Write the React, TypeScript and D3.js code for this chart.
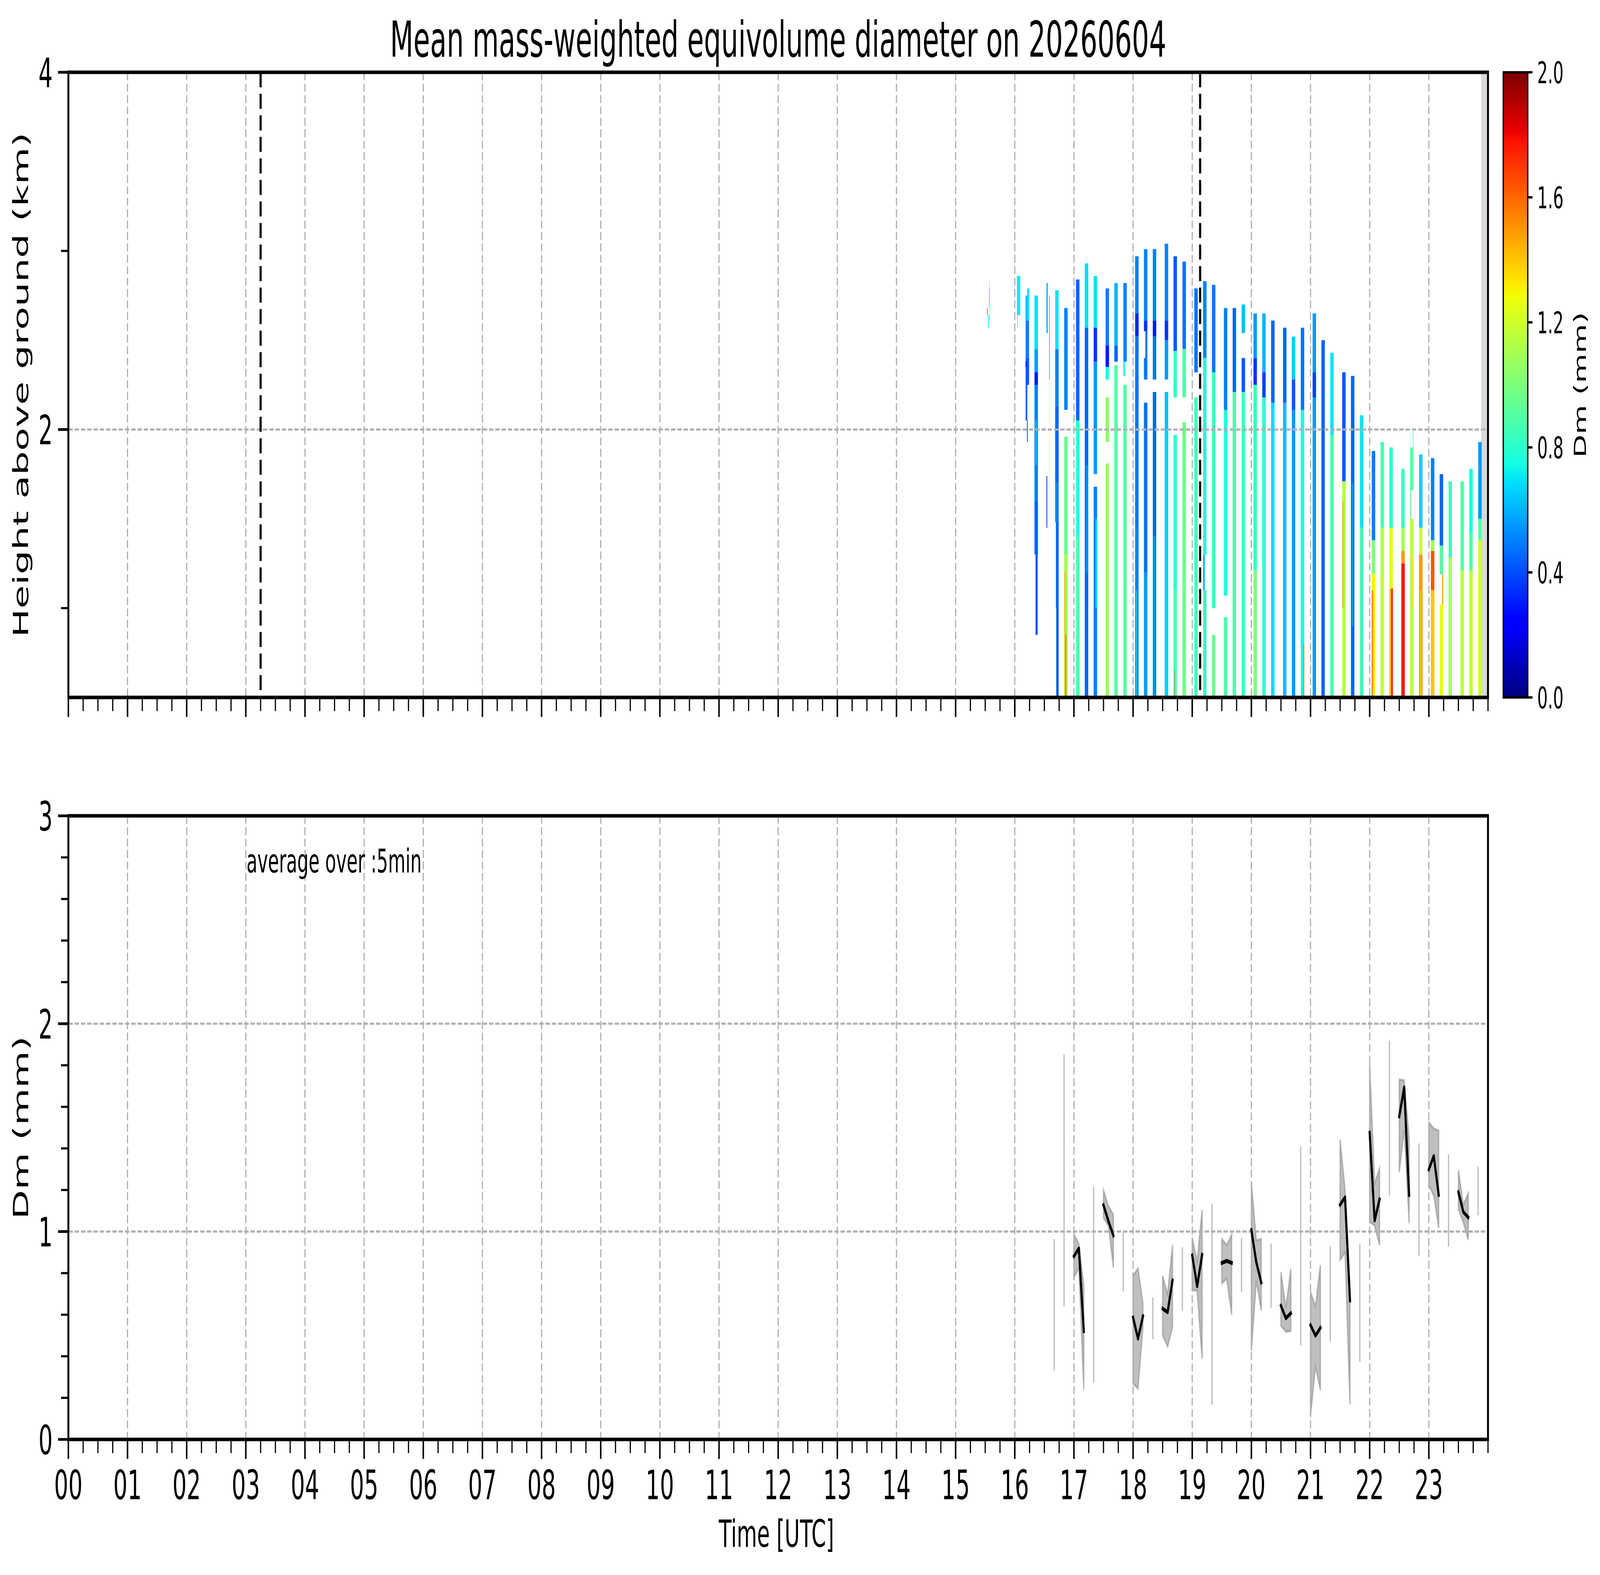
import React, { useEffect } from 'react';
import * as d3 from 'd3';

// ---------------- data ----------------
const titleText = 'Mean mass-weighted equivolume diameter on 20260604';
const hourLabels = d3.range(24).map((h) => String(h).padStart(2, '0'));
const heightMajor = [2, 4];
const heightMinor = [1, 3];
const dmMajor = [0, 1, 2, 3];
const dmMinor = [0.2, 0.4, 0.6, 0.8, 1.2, 1.4, 1.6, 1.8, 2.2, 2.4, 2.6, 2.8];
const cbarTicks = [0, 0.4, 0.8, 1.2, 1.6, 2.0];
const markerTimes = ['03:15', '19:08'];
const noDataFrom = '23:53';
const profileWidthMin = 3.5;

// start time of each radar profile block
const profileTimes = [
  '15:32:00',
  '16:02:06', '16:11:00', '16:20:00', '16:32:06', '16:41:00', '16:50:06',
  '17:02:06', '17:11:00', '17:20:00', '17:32:06', '17:41:00', '17:50:06',
  '18:02:06', '18:11:00', '18:20:00', '18:32:06', '18:41:00', '18:50:06',
  '19:02:06', '19:11:00', '19:20:00', '19:32:06', '19:41:00', '19:50:06',
  '20:02:06', '20:11:00', '20:20:00', '20:32:06', '20:41:00', '20:50:06',
  '21:02:06', '21:11:00', '21:20:00', '21:32:06', '21:41:00', '21:50:06',
  '22:02:06', '22:11:00', '22:20:00', '22:32:06', '22:41:00', '22:50:06',
  '23:02:06', '23:11:00', '23:20:00', '23:32:06', '23:41:00', '23:50:06',
];
// [top km, bottom km, Dm mm, (fraction from), (fraction to)]
const profileSegments: number[][][] = [
  [[2.83, 2.71, 0.5, 0.57, 0.63], [2.79, 2.68, 0.75, 0.66, 0.78], [2.72, 2.68, 1.0, 0.43, 0.55], [2.68, 2.64, 1.75, 0, 0.15], [2.68, 2.64, 0.82, 0.78, 0.86], [2.64, 2.57, 0.7, 0.29, 0.49], [2.64, 2.61, 0.5, 0.66, 0.75]],
  [[2.86, 2.64, 0.72], [2.64, 2.57, 0.72, 0.1, 0.25]],
  [[2.79, 2.61, 0.68, 0.45, 1], [2.75, 2.61, 0.6, 0, 0.45], [2.61, 2.4, 0.5], [2.4, 2.25, 0.42], [2.38, 2.35, 0.28, 0, 0.3], [2.25, 2.05, 0.45, 0, 0.5], [2.05, 1.93, 0.35, 0.4, 0.6]],
  [[2.75, 2.45, 0.68], [2.45, 2.32, 0.55], [2.32, 2.25, 0.3], [2.25, 1.6, 0.5], [2.05, 1.8, 0.62, 0.3, 0.7], [1.6, 1.3, 0.45], [1.3, 0.85, 0.4, 0.3, 0.9]],
  [[2.82, 2.54, 0.62, 0, 0.4], [2.75, 2.28, 0.55, 0.8, 0.95], [1.74, 1.45, 0.42, 0, 0.25]],
  [[2.78, 2.45, 0.7], [2.45, 2.13, 0.5], [2.13, 1.7, 0.45], [1.7, 1.48, 0.5], [1.48, 1.0, 0.45, 0.2, 1], [1.0, 0.5, 0.42, 0.3, 1]],
  [[2.68, 2.11, 0.5], [1.96, 1.3, 0.95], [1.3, 0.5, 1.1], [1.2, 0.5, 1.45, 0.1, 0.4], [0.85, 0.5, 1.65, 0.4, 0.6]],
  [[2.84, 2.05, 0.45], [2.05, 1.4, 0.78], [1.4, 0.5, 0.88]],
  [[2.93, 2.57, 0.68], [2.57, 0.5, 0.45], [1.8, 1.2, 0.52, 0.3, 1]],
  [[2.86, 2.57, 0.7], [2.57, 2.38, 0.35], [2.38, 1.75, 0.55], [1.68, 0.5, 0.5], [1.5, 1.0, 0.65, 0.5, 1]],
  [[2.79, 2.47, 0.5], [2.47, 2.35, 0.3], [2.35, 2.28, 0.75], [2.18, 1.93, 1.05], [1.81, 0.5, 1.08]],
  [[2.82, 2.47, 0.6], [2.47, 2.38, 0.45], [2.36, 0.5, 0.9]],
  [[2.82, 2.38, 0.5], [2.38, 2.3, 0.75, 0, 0.5], [2.25, 0.5, 0.9]],
  [[2.97, 2.65, 0.5], [2.65, 2.52, 0.32], [2.52, 1.45, 0.48], [1.45, 0.5, 0.5], [1.1, 0.5, 0.62, 0.2, 0.6]],
  [[3.01, 2.61, 0.5], [2.61, 2.55, 0.35], [2.55, 2.4, 0.48, 0.4, 1], [2.4, 2.28, 0.48], [2.15, 1.2, 0.47], [1.2, 0.5, 0.55]],
  [[3.01, 2.61, 0.5], [2.61, 2.52, 0.3], [2.52, 2.28, 0.48], [2.21, 1.4, 0.45], [1.4, 0.5, 0.52]],
  [[3.04, 2.61, 0.5], [2.61, 2.5, 0.35], [2.5, 2.28, 0.55], [2.21, 2.0, 0.62], [2.0, 0.5, 0.65]],
  [[2.97, 2.44, 0.42], [2.44, 2.18, 0.82], [1.97, 1.1, 0.8], [1.1, 0.5, 0.88], [0.65, 0.5, 1.75, 0.25, 0.35]],
  [[2.94, 2.45, 0.48], [2.45, 2.18, 0.9], [2.04, 0.5, 0.97]],
  [[2.79, 2.32, 0.47], [2.18, 0.5, 0.85]],
  [[2.83, 2.4, 0.5], [2.4, 1.3, 0.78], [1.3, 1.1, 0.6, 0, 0.5], [1.1, 0.5, 0.82]],
  [[2.81, 2.32, 0.48], [2.32, 1.0, 0.85], [0.85, 0.5, 0.95]],
  [[2.68, 2.11, 0.5], [2.11, 1.07, 0.78], [0.95, 0.5, 0.88]],
  [[2.68, 2.21, 0.45], [2.21, 0.5, 0.88]],
  [[2.7, 2.54, 0.62], [2.4, 2.21, 0.42], [2.21, 0.5, 0.85]],
  [[2.65, 2.4, 0.55], [2.4, 2.25, 0.35], [2.25, 1.21, 0.85], [1.21, 0.5, 1.0]],
  [[2.65, 2.32, 0.6], [2.32, 2.18, 0.38], [2.18, 0.5, 0.8]],
  [[2.61, 2.15, 0.45], [2.15, 0.5, 0.68]],
  [[2.57, 2.15, 0.45], [2.15, 0.5, 0.62]],
  [[2.52, 2.28, 0.65], [2.28, 2.11, 0.42], [2.11, 0.5, 0.55]],
  [[2.57, 2.11, 0.48], [2.11, 0.5, 0.75], [0.8, 0.5, 1.6, 0.8, 1]],
  [[2.65, 2.32, 0.55], [2.32, 2.18, 0.38], [2.18, 0.5, 0.55]],
  [[2.5, 0.5, 0.45]],
  [[2.43, 1.97, 0.7], [1.97, 0.5, 0.88]],
  [[2.32, 1.71, 0.42], [1.71, 0.5, 1.15], [1.6, 1.0, 1.5, 0.1, 0.3]],
  [[2.3, 0.5, 0.45], [1.7, 0.9, 0.55, 0.3, 0.7]],
  [[2.08, 1.45, 0.7], [1.45, 0.5, 0.85]],
  [[1.88, 1.38, 0.5], [1.38, 1.19, 1.0], [1.19, 0.5, 1.3], [1.1, 0.5, 1.6, 0, 0.3]],
  [[1.93, 1.45, 0.88], [1.45, 0.5, 1.12], [1.2, 0.5, 1.3, 0.6, 0.9]],
  [[1.9, 1.45, 0.82], [1.45, 1.11, 1.25], [1.11, 0.5, 1.4], [1.11, 0.5, 1.75, 0.5, 1]],
  [[1.78, 1.45, 0.82], [1.45, 1.32, 1.1], [1.32, 1.25, 1.5], [1.25, 0.5, 1.78]],
  [[1.9, 1.66, 0.9], [2.0, 1.9, 0.85, 0.85, 1], [1.66, 1.5, 0.95, 0, 0.3], [1.5, 0.5, 1.15], [1.3, 1.0, 1.35, 0.4, 0.7]],
  [[1.86, 1.45, 0.65], [1.45, 1.3, 1.2], [1.3, 0.5, 1.5], [1.1, 0.5, 1.3, 0.4, 0.6]],
  [[1.84, 1.38, 0.5], [1.38, 1.32, 1.1], [1.32, 1.1, 1.65], [1.1, 0.5, 1.4]],
  [[1.75, 1.35, 0.45], [1.35, 1.19, 0.9], [1.19, 1.02, 1.5, 0.7, 1], [1.02, 0.5, 1.25]],
  [[1.71, 1.28, 0.85], [1.28, 0.5, 1.1]],
  [[1.71, 1.21, 0.9], [1.21, 0.5, 1.15]],
  [[1.78, 1.42, 0.75], [1.42, 1.21, 0.9], [1.21, 0.5, 1.15]],
  [[1.93, 1.5, 0.55], [1.5, 1.38, 0.9], [1.38, 0.5, 1.2]],
];

// 5-minute averages (bottom panel)
const dmTimes = ['16:40', '16:50', '17:00', '17:05', '17:10', '17:20', '17:30', '17:35', '17:40', '17:50',
  '18:00', '18:05', '18:10', '18:20', '18:30', '18:35', '18:40', '18:50',
  '19:00', '19:05', '19:10', '19:20', '19:30', '19:35', '19:40', '19:50',
  '20:00', '20:05', '20:10', '20:20', '20:30', '20:35', '20:40', '20:50',
  '21:00', '21:05', '21:10', '21:20', '21:30', '21:35', '21:40', '21:50',
  '22:00', '22:05', '22:10', '22:20', '22:30', '22:35', '22:40', '22:50',
  '23:00', '23:05', '23:10', '23:20', '23:30', '23:35', '23:40', '23:50'];
const dmMean = [0.62, 1.2, 0.881, 0.919, 0.521, 0.7, 1.127, 1.05, 0.981, 0.85,
  0.586, 0.485, 0.593, 0.58, 0.629, 0.612, 0.765, 0.77,
  0.885, 0.737, 0.888, 0.62, 0.849, 0.859, 0.849, 0.84,
  1.007, 0.852, 0.755, 0.79, 0.643, 0.583, 0.607, 0.9,
  0.55, 0.499, 0.537, 0.7, 1.129, 1.165, 0.669, 0.65,
  1.475, 1.053, 1.155, 1.52, 1.554, 1.694, 1.176, 1.15,
  1.299, 1.363, 1.176, 1.15, 1.19, 1.094, 1.068, 1.2];
const dmLow = [0.331, 0.64, 0.777, 0.827, 0.24, 0.273, 1.065, 1.029, 0.827, 0.712,
  0.269, 0.245, 0.54, 0.482, 0.499, 0.446, 0.54, 0.619,
  0.719, 0.715, 0.388, 0.168, 0.751, 0.773, 0.6, 0.708,
  0.427, 0.763, 0.619, 0.633, 0.547, 0.518, 0.522, 0.453,
  0.115, 0.35, 0.237, 0.471, 0.863, 0.9, 0.168, 0.374,
  1.046, 1.029, 0.935, 1.173, 1.285, 1.489, 1.04, 0.885,
  1.223, 1.173, 1.017, 0.928, 1.108, 1.043, 0.96, 1.079];
const dmHigh = [0.964, 1.852, 0.986, 0.942, 0.741, 1.216, 1.199, 1.122, 1.082, 1.0,
  0.787, 0.823, 0.655, 0.683, 0.787, 0.698, 0.935, 0.924,
  0.971, 0.856, 1.104, 1.132, 0.964, 0.935, 0.986, 0.968,
  1.237, 0.957, 0.964, 0.942, 0.804, 0.633, 0.82, 1.409,
  0.709, 0.64, 0.839, 0.931, 1.443, 1.201, 0.72, 0.94,
  1.809, 1.23, 1.305, 1.918, 1.731, 1.727, 1.453, 1.424,
  1.525, 1.496, 1.485, 1.371, 1.295, 1.129, 1.184, 1.312];

// ---------------- helpers ----------------
const FONT = 'DejaVu Sans';
const parseHM = (s: string) => {
  const p = s.split(':').map(Number);
  return p[0] + (p[1] || 0) / 60 + (p[2] || 0) / 3600;
};
const jR = d3.scaleLinear([0, 0.35, 0.66, 0.89, 1], [0, 0, 1, 1, 0.5]).clamp(true);
const jG = d3.scaleLinear([0, 0.125, 0.375, 0.64, 0.91, 1], [0, 0, 1, 1, 0, 0]).clamp(true);
const jB = d3.scaleLinear([0, 0.11, 0.34, 0.65, 1], [0.5, 1, 1, 0, 0]).clamp(true);
const norm = d3.scaleLinear([0, 2], [0, 1]).clamp(true);
const jet = (v: number) => {
  const t = Math.round(norm(v) * 255) / 255;
  return d3.rgb(255 * jR(t), 255 * jG(t), 255 * jB(t)).formatHex();
};

const W = 7442, H = 4031;
const PX0 = 318, PX1 = 6921;
const T0 = 185, T1 = 1785;
const B0 = 2088, B1 = 3684;
const CX0 = 6992, CX1 = 7106;
const GRID = '#b0b0b0';

export default function App() {
  useEffect(() => {
    document.body.style.margin = '0';
    document.body.style.overflow = 'hidden';
    document.documentElement.style.overflow = 'hidden';
  }, []);

  const x = d3.scaleLinear([0, 24], [PX0, PX1]);
  const yH = d3.scaleLinear([0.5, 4], [T1, T0]);
  const yD = d3.scaleLinear([0, 3], [B1, B0]);
  const yC = d3.scaleLinear([0, 2], [T1, T0]);

  const majorHours = d3.range(0, 24);
  const minorHours = d3.range(0, 97).map((q) => q / 4).filter((v) => v % 1 !== 0 || v === 24);

  // bottom panel groups
  const pts = dmTimes.map((t, i) => ({ t: parseHM(t), m: dmMean[i], lo: dmLow[i], hi: dmHigh[i] }));
  const groups: typeof pts[] = [];
  pts.forEach((p, i) => {
    if (i === 0 || p.t - pts[i - 1].t > 5.5 / 60) groups.push([p]);
    else groups[groups.length - 1].push(p);
  });
  const area = d3.area<any>().x((d) => x(d.t)).y0((d) => yD(d.lo)).y1((d) => yD(d.hi));
  const line = d3.line<any>().x((d) => x(d.t)).y((d) => yD(d.m));

  const xTicks = (yBase: number, key: string) => (
    <g key={key}>
      {majorHours.map((h) => (
        <line key={'M' + h} x1={x(h)} x2={x(h)} y1={yBase} y2={yBase + 50} stroke="#000" strokeWidth={7} />
      ))}
      {minorHours.map((h) => (
        <line key={'m' + h} x1={x(h)} x2={x(h)} y1={yBase} y2={yBase + 35} stroke="#000" strokeWidth={5.5} />
      ))}
    </g>
  );

  const cbSteps = d3.range(256);

  return (
    <svg viewBox={`0 0 ${W} ${H}`} preserveAspectRatio="none"
      style={{ position: 'fixed', left: 0, top: 0, width: '100vw', height: '100vh', display: 'block', background: '#fff' }}>
      <rect x={0} y={0} width={W} height={H} fill="#fff" />
      <defs>
        <clipPath id="clipTop"><rect x={PX0} y={T0} width={PX1 - PX0} height={T1 - T0} /></clipPath>
        <clipPath id="clipBot"><rect x={PX0} y={B0} width={PX1 - PX0} height={B1 - B0} /></clipPath>
      </defs>

      {/* title */}
      <text x={(PX0 + PX1) / 2} y={145} textAnchor="middle" fontFamily={FONT} fontSize={126}>{titleText}</text>

      {/* ---------- top panel ---------- */}
      <g clipPath="url(#clipTop)">
        <rect x={x(parseHM(noDataFrom))} y={T0} width={x(24) - x(parseHM(noDataFrom))} height={T1 - T0} fill="#d9d9d9" />
        {profileTimes.map((t, i) => {
          const t0 = parseHM(t);
          const xa = x(t0);
          const w = x(t0 + profileWidthMin / 60) - xa;
          return (
            <g key={'p' + i}>
              {profileSegments[i].map((s, j) => {
                const f0 = s.length > 3 ? s[3] : 0;
                const f1 = s.length > 4 ? s[4] : 1;
                return (
                  <rect key={j} x={xa + f0 * w} width={(f1 - f0) * w} y={yH(s[0])} height={yH(s[1]) - yH(s[0])} fill={jet(s[2])} />
                );
              })}
            </g>
          );
        })}
        {d3.range(1, 24).map((h) => (
          <line key={'gv' + h} x1={x(h)} x2={x(h)} y1={T0} y2={T1} stroke={GRID} strokeWidth={5.5} strokeDasharray="20.4 8.8" />
        ))}
        {heightMajor.map((v) => (
          <line key={'gh' + v} x1={PX0} x2={PX1} y1={yH(v)} y2={yH(v)} stroke={GRID} strokeWidth={5.5} strokeDasharray="20.4 8.8" />
        ))}
        {markerTimes.map((t) => (
          <line key={'mk' + t} x1={x(parseHM(t))} x2={x(parseHM(t))} y1={T0} y2={T1} stroke="#000" strokeWidth={10} strokeDasharray="38.5 16.6" />
        ))}
      </g>
      <rect x={PX0} y={T0} width={PX1 - PX0} height={T1 - T0} fill="none" stroke="#000" strokeWidth={9} />
      {xTicks(T1, 'xt-top')}
      {heightMajor.map((v) => (
        <g key={'yt' + v}>
          <line x1={PX0 - 48} x2={PX0} y1={yH(v)} y2={yH(v)} stroke="#000" strokeWidth={7} />
          <text x={245} y={yH(v) + 0.364 * 104} textAnchor="end" fontFamily={FONT} fontSize={104}>{v}</text>
        </g>
      ))}
      {heightMinor.map((v) => (
        <line key={'ytm' + v} x1={PX0 - 34} x2={PX0} y1={yH(v)} y2={yH(v)} stroke="#000" strokeWidth={5.5} />
      ))}
      <text transform={`translate(130, ${(T0 + T1) / 2}) rotate(-90)`} textAnchor="middle" fontFamily={FONT} fontSize={98}>Height above ground (km)</text>

      {/* colorbar */}
      {cbSteps.map((k) => {
        const v0 = (k / 256) * 2, v1 = ((k + 1) / 256) * 2;
        return <rect key={'cb' + k} x={CX0} width={CX1 - CX0} y={yC(v1)} height={yC(v0) - yC(v1) + 0.8} fill={jet((v0 + v1) / 2)} />;
      })}
      <rect x={CX0} y={T0} width={CX1 - CX0} height={T1 - T0} fill="none" stroke="#000" strokeWidth={6} />
      {cbarTicks.map((v) => (
        <g key={'cbt' + v}>
          <line x1={CX1} x2={CX1 + 22} y1={yC(v)} y2={yC(v)} stroke="#000" strokeWidth={6} />
          <text x={7150} y={yC(v) + 0.364 * 77} fontFamily={FONT} fontSize={77}>{v.toFixed(1)}</text>
        </g>
      ))}
      <text transform={`translate(7376, ${(T0 + T1) / 2}) rotate(-90)`} textAnchor="middle" fontFamily={FONT} fontSize={78}>Dm (mm)</text>

      {/* ---------- bottom panel ---------- */}
      <g clipPath="url(#clipBot)">
        {groups.map((g, i) => (
          <path key={'ar' + i} d={area(g) || ''} fill="#808080" fillOpacity={0.5} stroke="#808080" strokeOpacity={0.5} strokeWidth={6} strokeLinejoin="miter" />
        ))}
        {d3.range(1, 24).map((h) => (
          <line key={'bgv' + h} x1={x(h)} x2={x(h)} y1={B0} y2={B1} stroke={GRID} strokeWidth={5.5} strokeDasharray="20.4 8.8" />
        ))}
        {[1, 2].map((v) => (
          <line key={'bgh' + v} x1={PX0} x2={PX1} y1={yD(v)} y2={yD(v)} stroke={GRID} strokeWidth={5.5} strokeDasharray="20.4 8.8" />
        ))}
        {groups.filter((g) => g.length > 1).map((g, i) => (
          <path key={'ln' + i} d={line(g) || ''} fill="none" stroke="#000" strokeWidth={10} strokeLinejoin="round" strokeLinecap="square" />
        ))}
      </g>
      <text x={x(3.03) - 5} y={yD(2.727)} fontFamily={FONT} fontSize={83}>average over :5min</text>
      <rect x={PX0} y={B0} width={PX1 - PX0} height={B1 - B0} fill="none" stroke="#000" strokeWidth={9} />
      {xTicks(B1, 'xt-bot')}
      {majorHours.map((h, i) => (
        <text key={'xl' + h} x={x(h)} y={3837} textAnchor="middle" fontFamily={FONT} fontSize={104}>{hourLabels[i]}</text>
      ))}
      {dmMajor.map((v) => (
        <g key={'dyt' + v}>
          <line x1={PX0 - 48} x2={PX0} y1={yD(v)} y2={yD(v)} stroke="#000" strokeWidth={7} />
          <text x={245} y={yD(v) + 0.364 * 104} textAnchor="end" fontFamily={FONT} fontSize={104}>{v}</text>
        </g>
      ))}
      {dmMinor.map((v) => (
        <line key={'dytm' + v} x1={PX0 - 34} x2={PX0} y1={yD(v)} y2={yD(v)} stroke="#000" strokeWidth={5.5} />
      ))}
      <text transform={`translate(130, ${(B0 + B1) / 2}) rotate(-90)`} textAnchor="middle" fontFamily={FONT} fontSize={98}>Dm (mm)</text>
      <text x={(PX0 + PX1) / 2 - 8} y={3959} textAnchor="middle" fontFamily={FONT} fontSize={97}>Time [UTC]</text>
    </svg>
  );
}
